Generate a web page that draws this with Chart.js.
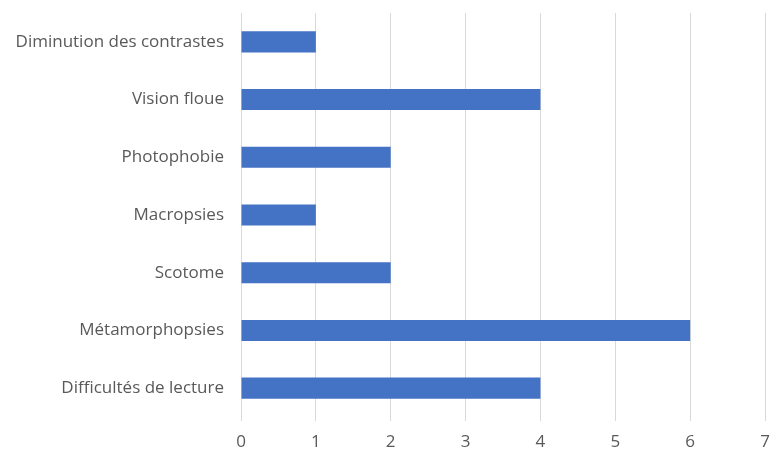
<!DOCTYPE html>
<html>
<head>
<meta charset="utf-8">
<script src="https://cdn.jsdelivr.net/npm/chart.js@4/dist/chart.umd.min.js"></script>
<style>
  html, body { margin: 0; padding: 0; background: #fff; }
  #wrap { width: 783px; height: 459px; }
</style>
</head>
<body>
<div id="wrap"><canvas id="c" width="783" height="459"></canvas></div>
<script>
// Symptoms (top to bottom) and number of patients
const categories = [
  "Diminution des contrastes",
  "Vision floue",
  "Photophobie",
  "Macropsies",
  "Scotome",
  "Métamorphopsies",
  "Difficultés de lecture"
];
const counts = [1, 4, 2, 1, 2, 6, 4];
const xTicks = [0, 1, 2, 3, 4, 5, 6, 7];

const textColor = "#595959";
const gridColor = "#d9d9d9";
const font = { family: "'Open Sans', sans-serif", size: 17 };

new Chart(document.getElementById("c"), {
  type: "bar",
  data: {
    labels: categories,
    datasets: [{
      data: counts,
      backgroundColor: "#4472c4",
      borderWidth: 0,
      categoryPercentage: 1,
      barPercentage: 0.365
    }]
  },
  options: {
    indexAxis: "y",
    responsive: false,
    animation: false,
    layout: { padding: { top: 13, right: 18, bottom: 0, left: 0 } },
    plugins: { legend: { display: false }, tooltip: { enabled: false } },
    scales: {
      x: {
        min: xTicks[0],
        max: xTicks[xTicks.length - 1],
        afterBuildTicks: (axis) => { axis.ticks = xTicks.map(v => ({ value: v })); },
        grid: { color: gridColor, lineWidth: 1, drawTicks: true, tickLength: 4 },
        border: { display: false },
        ticks: { color: textColor, font: font, padding: 11 },
        afterFit: (axis) => { axis.height = 42; }
      },
      y: {
        grid: { display: false },
        border: { display: false },
        ticks: { color: textColor, font: font, padding: 9 },
        afterFit: (axis) => {
          axis.width = 241;
          axis.paddingTop = 0;
          axis.paddingBottom = 0;
        }
      }
    }
  }
});
</script>
</body>
</html>
